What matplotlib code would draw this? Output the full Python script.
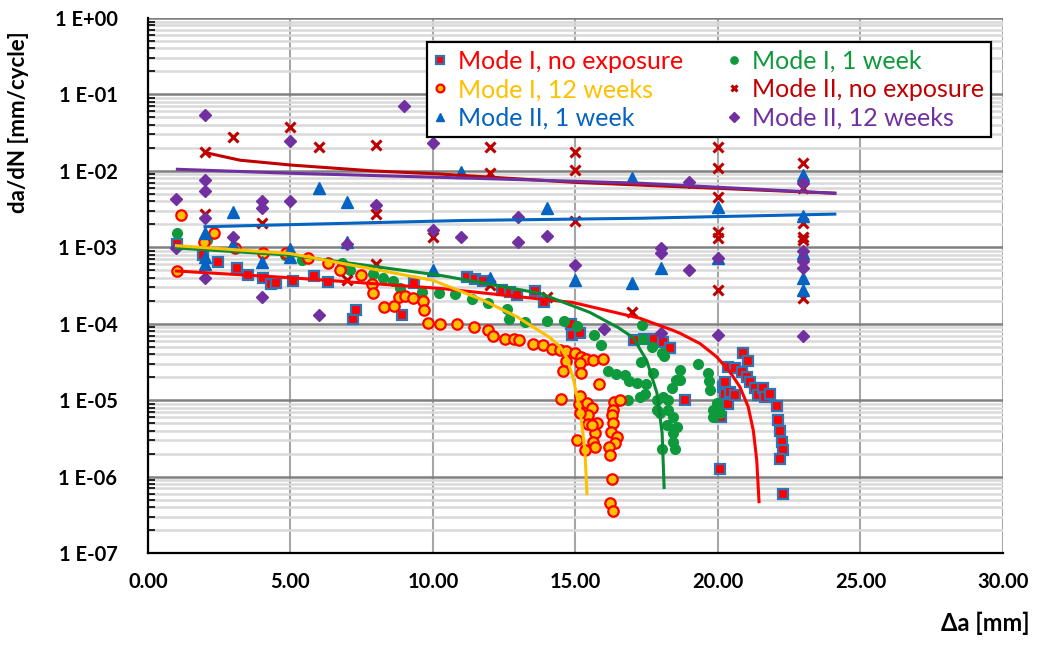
import numpy as np
import matplotlib
matplotlib.use("Agg")
import matplotlib.pyplot as plt
from matplotlib.ticker import FixedLocator, FixedFormatter, LogLocator, NullFormatter

plt.rcParams["font.family"] = ["Lato", "DejaVu Sans"]

# Mode I, no exposure
m1_none_x = [1.01, 1.94, 2.47, 3.13, 3.52, 4.05, 4.30, 4.50, 5.08, 5.82, 6.31, 7.18, 7.29, 8.92, 9.32,
             11.18, 11.47, 11.76, 12.41, 12.70, 12.96, 13.58, 13.89, 14.84, 14.87, 15.16, 17.05, 17.40,
             17.75, 18.08, 18.32, 18.84, 20.07, 20.11, 20.19, 20.25, 20.25, 20.36, 20.36, 20.42, 20.60,
             20.60, 20.83, 20.88, 21.01, 21.06, 21.12, 21.30, 21.41, 21.59, 21.65, 21.82, 22.06, 22.12,
             22.19, 22.24, 22.28, 22.16, 22.27]
m1_none_y = [1.12e-3, 7.9e-4, 6.5e-4, 5.3e-4, 4.3e-4, 4.0e-4, 3.3e-4, 3.4e-4, 3.6e-4, 4.2e-4, 3.5e-4,
             1.17e-4, 1.52e-4, 1.29e-4, 3.4e-4, 4.1e-4, 3.8e-4, 3.6e-4, 2.75e-4, 2.6e-4, 2.4e-4, 2.7e-4,
             1.95e-4, 9.9e-5, 7.1e-5, 7.5e-5, 6.1e-5, 6.3e-5, 6.3e-5, 5.7e-5, 4.75e-5, 1.02e-5, 1.26e-6,
             6.0e-6, 1.49e-5, 1.74e-5, 1.22e-5, 2.73e-5, 8.9e-6, 1.29e-5, 2.66e-5, 1.16e-5, 2.34e-5,
             4.12e-5, 2.02e-5, 3.27e-5, 1.74e-5, 1.46e-5, 1.16e-5, 1.46e-5, 1.10e-5, 1.22e-5, 8.3e-6,
             5.5e-6, 4.0e-6, 2.8e-6, 2.2e-6, 1.7e-6, 5.9e-7]

# Mode I, 1 week
m1_1w_x = [1.01, 2.06, 4.81, 5.42, 6.80, 7.10, 7.91, 8.26, 8.61, 8.84, 9.62, 10.22, 10.77, 11.38, 11.94,
           12.59, 12.66, 13.23, 13.99, 14.61, 15.04, 15.65, 15.89, 16.15, 16.43, 16.74, 16.88, 17.16,
           17.47, 17.30, 17.32, 17.70, 18.04, 18.11, 17.73, 18.67, 19.31, 18.54, 18.38, 18.08, 18.26,
           17.85, 17.44, 17.26, 16.84, 18.43, 18.55, 18.20, 18.43, 18.43, 18.49, 18.02, 17.96, 18.26,
           17.85, 19.66, 19.69, 19.72, 19.95, 19.84, 20.01, 19.84, 20.07, 18.67, 17.36]
m1_1w_y = [1.55e-3, 1.24e-3, 7.9e-4, 6.9e-4, 6.2e-4, 5.1e-4, 4.5e-4, 4.0e-4, 3.6e-4, 2.9e-4, 2.58e-4,
           2.49e-4, 2.46e-4, 2.09e-4, 1.89e-4, 1.54e-4, 1.14e-4, 1.06e-4, 1.08e-4, 1.10e-4, 9.3e-5,
           7.1e-5, 5.2e-5, 2.42e-5, 2.23e-5, 2.12e-5, 1.76e-5, 1.69e-5, 1.61e-5, 3.17e-5, 9.6e-5, 5.0e-5,
           4.2e-5, 3.8e-5, 2.29e-5, 2.47e-5, 2.99e-5, 1.83e-5, 1.44e-5, 1.10e-5, 1.0e-5, 1.0e-5, 1.22e-5,
           1.10e-5, 1.02e-5, 6.0e-6, 4.5e-6, 4.7e-6, 3.7e-6, 2.85e-6, 2.33e-6, 2.33e-6, 6.7e-6, 7.4e-6,
           7.4e-6, 2.28e-5, 1.79e-5, 1.35e-5, 9.1e-6, 7.4e-6, 7.4e-6, 6.0e-6, 6.7e-6, 1.83e-5, 6.4e-5]

# Mode I, 12 weeks
m1_12w_x = [1.01, 1.15, 1.95, 2.33, 3.05, 4.02, 4.84, 5.62, 6.33, 6.72, 7.46, 7.85, 7.89, 8.27, 8.63,
            8.82, 9.02, 9.31, 9.66, 9.68, 9.83, 10.25, 10.83, 11.44, 11.92, 12.12, 12.54, 12.83, 13.02,
            13.50, 13.87, 14.16, 14.47, 14.68, 14.68, 14.57, 14.98, 15.20, 15.37, 15.62, 15.98, 15.16,
            15.20, 15.81, 14.50, 15.14, 15.16, 15.42, 15.57, 15.45, 15.74, 15.45, 15.68, 15.63, 15.68,
            15.07, 15.33, 16.35, 16.56, 16.30, 16.27, 16.33, 16.24, 16.46, 16.39, 16.18, 16.21, 16.27,
            16.20, 16.31, 15.16, 15.57]
m1_12w_y = [4.9e-4, 2.64e-3, 1.16e-3, 1.52e-3, 9.7e-4, 8.3e-4, 8.3e-4, 7.2e-4, 6.2e-4, 5.1e-4, 4.4e-4,
            3.3e-4, 2.49e-4, 1.66e-4, 1.70e-4, 2.26e-4, 2.30e-4, 2.14e-4, 1.99e-4, 1.51e-4, 1.02e-4,
            9.9e-5, 9.9e-5, 9.1e-5, 8.2e-5, 6.9e-5, 6.4e-5, 6.4e-5, 6.1e-5, 5.5e-5, 5.3e-5, 4.65e-5,
            4.5e-5, 4.4e-5, 3.29e-5, 2.40e-5, 4.16e-5, 3.66e-5, 3.44e-5, 3.37e-5, 3.41e-5, 3.02e-5,
            2.26e-5, 1.63e-5, 1.04e-5, 8.9e-6, 1.13e-5, 9.1e-6, 7.8e-6, 6.4e-6, 5.0e-6, 4.95e-6, 3.7e-6,
            2.85e-6, 2.43e-6, 3.0e-6, 2.23e-6, 9.6e-6, 1.01e-5, 7.4e-6, 6.4e-6, 5.1e-6, 3.85e-6, 3.3e-6,
            2.78e-6, 2.45e-6, 1.9e-6, 9.2e-7, 4.5e-7, 3.55e-7, 6.7e-6, 4.7e-6]

# Mode II, no exposure
m2_none_x = [2, 2, 3, 4, 5, 6, 7, 8, 8, 8, 10, 12, 12, 12, 14, 15, 15, 15, 17,
             20, 20, 20, 20, 20, 20, 23, 23, 23, 23, 23, 23]
m2_none_y = [0.0178, 2.72e-3, 0.0275, 2.06e-3, 0.0371, 0.0203, 3.72e-4, 0.0218, 2.72e-3, 6.03e-4,
             1.37e-3, 0.0207, 9.27e-3, 3.2e-4, 2.23e-4, 0.0178, 0.0102, 2.22e-3, 1.42e-4, 0.0207,
             0.0108, 4.5e-3, 1.58e-3, 1.32e-3, 2.75e-4, 0.0127, 5.96e-3, 2.07e-3, 1.37e-3, 1.24e-3,
             2.16e-4]

# Mode II, 1 week
m2_1w_x = [2, 2, 2, 3, 3, 4, 5, 5, 6, 7, 7, 10, 11, 12, 14, 15, 17, 17, 18, 20, 20, 23, 23, 23, 23, 23]
m2_1w_y = [1.52e-3, 7.5e-4, 6.0e-4, 2.92e-3, 1.12e-3, 6.46e-4, 9.4e-4, 7.5e-4, 5.9e-3, 3.94e-3,
           1.18e-3, 5.03e-4, 9.7e-3, 3.95e-4, 3.23e-3, 3.72e-4, 7.98e-3, 3.37e-4, 5.4e-4, 3.39e-3,
           7.3e-4, 8.8e-3, 2.56e-3, 8.4e-4, 4.0e-4, 2.75e-4]

# Mode II, 12 weeks
m2_12w_x = [1, 1, 2, 2, 2, 2, 2, 3, 4, 4, 4, 5, 5, 6, 7, 8, 9, 10, 10, 11, 13, 13, 14, 15, 16,
            18, 18, 18, 19, 19, 20, 20, 23, 23, 23, 23, 23]
m2_12w_y = [4.24e-3, 9.77e-4, 0.0546, 7.69e-3, 5.39e-3, 2.41e-3, 3.92e-4, 1.37e-3, 4.03e-3, 3.26e-3,
            2.21e-4, 0.0245, 4.08e-3, 1.30e-4, 1.11e-3, 3.57e-3, 0.0705, 0.0229, 1.69e-3, 1.37e-3,
            2.51e-3, 1.16e-3, 1.42e-3, 5.85e-4, 8.6e-5, 9.7e-4, 8.3e-4, 7.5e-5, 7.2e-3, 5.08e-4,
            7.16e-4, 7.1e-5, 6.86e-3, 8.97e-4, 6.64e-4, 5.42e-4, 6.99e-5]

# trend lines
fit_m1_none_x = [1.0, 5.0, 10.25, 14.9, 17.26, 18.42, 18.67, 19.37, 19.95, 20.42, 20.77, 21.06, 21.24, 21.36, 21.44]
fit_m1_none_y = [4.9e-4, 4.0e-4, 2.9e-4, 1.9e-4, 1.18e-4, 8.2e-5, 7.5e-5, 5.5e-5, 3.7e-5, 2.34e-5,
                 1.49e-5, 8.2e-6, 4.0e-6, 1.64e-6, 4.7e-7]
fit_m1_1w_x = [1.0, 5.0, 10.25, 13.75, 15.5, 16.5, 17.02, 17.5, 17.86, 18.04, 18.11]
fit_m1_1w_y = [9.8e-4, 7.9e-4, 4.3e-4, 2.5e-4, 1.41e-4, 8.9e-5, 6.6e-5, 3.3e-5, 1.23e-5, 3.7e-6, 7.2e-7]
fit_m1_12w_x = [1.0, 4.98, 7.09, 10.0, 11.75, 12.95, 14.1, 14.46, 14.7, 14.91, 15.16, 15.33, 15.40]
fit_m1_12w_y = [1.05e-3, 8.3e-4, 5.9e-4, 3.7e-4, 2.04e-4, 1.23e-4, 6.6e-5, 5.0e-5, 3.55e-5, 2.0e-5,
                7.4e-6, 2.24e-6, 6.0e-7]
fit_m2_none_x = [2.03, 3.23, 5.04, 7.89, 10.25, 14.9, 19.6, 24.1]
fit_m2_none_y = [0.0173, 0.0138, 0.0119, 0.0100, 0.0091, 0.0071, 0.0060, 0.0051]
fit_m2_1w_x = [2.0, 10.95, 17.26, 24.1]
fit_m2_1w_y = [1.86e-3, 2.24e-3, 2.40e-3, 2.72e-3]
fit_m2_12w_x = [1.03, 5.04, 10.95, 17.26, 24.1]
fit_m2_12w_y = [0.0105, 0.0093, 0.0081, 0.0069, 0.0051]

y_ticks = [1e-7, 1e-6, 1e-5, 1e-4, 1e-3, 1e-2, 1e-1, 1e0]
y_tick_labels = ["1 E-07", "1 E-06", "1 E-05", "1 E-04", "1 E-03", "1 E-02", "1 E-01", "1 E+00"]
x_ticks = [0, 5, 10, 15, 20, 25, 30]
x_tick_labels = ["0.00", "5.00", "10.00", "15.00", "20.00", "25.00", "30.00"]

RED = "#FF0000"
DARKRED = "#C00000"
GREEN = "#0E9A3C"
GOLD = "#FFC000"
BLUE = "#0563C1"
PURPLE = "#7030A0"
EDGEBLUE = "#2E75B6"

fig = plt.figure(figsize=(10.4, 6.49), dpi=100)
ax = fig.add_axes([0.1423, 0.1479, 0.8221, 0.8243])

ax.set_yscale("log")
ax.set_xlim(0, 30)
ax.set_ylim(1e-7, 1)

h_none, = ax.plot(m1_none_x, m1_none_y, ls="none", marker="s", ms=7, mfc=RED, mec=EDGEBLUE, mew=1.6,
                  label="Mode I, no exposure", zorder=4)
h_1w, = ax.plot(m1_1w_x, m1_1w_y, ls="none", marker="o", ms=7, mfc=GREEN, mec=GREEN,
                label="Mode I, 1 week", zorder=4)
h_12w, = ax.plot(m1_12w_x, m1_12w_y, ls="none", marker="o", ms=7.5, mfc=GOLD, mec=RED, mew=1.6,
                 label="Mode I, 12 weeks", zorder=4)
h2_none, = ax.plot(m2_none_x, m2_none_y, ls="none", marker="x", ms=6.5, mec=DARKRED, mew=2.2,
                   label="Mode II, no exposure", zorder=4)
h2_1w, = ax.plot(m2_1w_x, m2_1w_y, ls="none", marker="^", ms=8, mfc=BLUE, mec=BLUE,
                 label="Mode II, 1 week", zorder=4)
h2_12w, = ax.plot(m2_12w_x, m2_12w_y, ls="none", marker="D", ms=6.5, mfc=PURPLE, mec=PURPLE,
                  label="Mode II, 12 weeks", zorder=4)

ax.plot(fit_m1_none_x, fit_m1_none_y, color=RED, lw=2.2, zorder=5)
ax.plot(fit_m1_1w_x, fit_m1_1w_y, color="#0A8A35", lw=2.2, zorder=5)
ax.plot(fit_m1_12w_x, fit_m1_12w_y, color=GOLD, lw=2.2, zorder=5)
ax.plot(fit_m2_none_x, fit_m2_none_y, color=DARKRED, lw=2.2, zorder=5)
ax.plot(fit_m2_1w_x, fit_m2_1w_y, color=BLUE, lw=2.2, zorder=5)
ax.plot(fit_m2_12w_x, fit_m2_12w_y, color=PURPLE, lw=2.2, zorder=5)

# grid
ax.yaxis.set_major_locator(FixedLocator(y_ticks))
ax.yaxis.set_major_formatter(FixedFormatter(y_tick_labels))
ax.yaxis.set_minor_locator(LogLocator(base=10, subs=np.arange(2, 10)))
ax.yaxis.set_minor_formatter(NullFormatter())
ax.xaxis.set_major_locator(FixedLocator(x_ticks))
ax.xaxis.set_major_formatter(FixedFormatter(x_tick_labels))
ax.grid(True, which="major", axis="y", color="#808080", lw=1.8, zorder=1)
ax.grid(True, which="minor", axis="y", color="#D9D9D9", lw=1.8, zorder=0)
ax.grid(True, which="major", axis="x", color="#A6A6A6", lw=1.5, zorder=1)
ax.set_axisbelow(True)

for s in ("top", "right"):
    ax.spines[s].set_visible(False)
for s in ("left", "bottom"):
    ax.spines[s].set_linewidth(1.6)
    ax.spines[s].set_color("black")
    ax.spines[s].set_zorder(6)

ax.tick_params(axis="y", which="both", direction="in", length=5, width=1.2, pad=22, labelsize=14.5)
ax.tick_params(axis="y", which="major", length=0)
ax.tick_params(axis="x", which="both", length=0, pad=14, labelsize=14.5)
for lab in ax.get_xticklabels() + ax.get_yticklabels():
    lab.set_fontweight("bold")

fig.text(0.018, 0.812, "da/dN [mm/cycle]", rotation=90, ha="center", va="center",
         fontsize=16, fontweight="bold")
fig.text(0.990, 0.022, "Δa [mm]", ha="right", va="bottom", fontsize=17, fontweight="bold")

leg = ax.legend(handles=[h_none, h_12w, h2_1w, h_1w, h2_none, h2_12w], ncol=2, loc="upper right",
                bbox_to_anchor=(0.9865, 0.955), fontsize=18, markerscale=0.75, handlelength=0.5,
                handletextpad=0.45, columnspacing=1.8, labelspacing=0.22, borderpad=0.3,
                borderaxespad=0, fancybox=False, framealpha=1, edgecolor="black")
leg.get_frame().set_linewidth(1.6)
leg.set_zorder(10)
for txt, c in zip(leg.get_texts(), [RED, GOLD, BLUE, GREEN, DARKRED, PURPLE]):
    txt.set_color(c)

fig.savefig("out.png", dpi=100)
